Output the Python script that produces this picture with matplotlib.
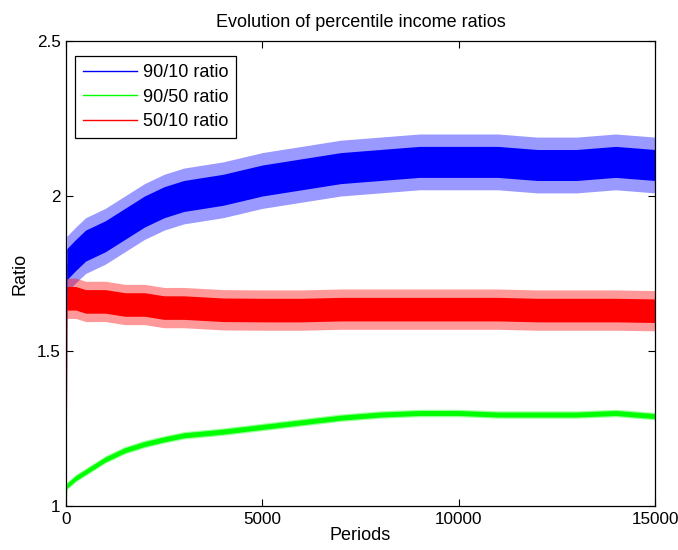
import numpy as np
import matplotlib
matplotlib.use("Agg")
import matplotlib.pyplot as plt
from matplotlib.lines import Line2D

plt.rcParams['font.family'] = ['Liberation Sans', 'DejaVu Sans']

periods = [20, 250, 500, 1000, 1500, 2000, 2500, 3000, 4000, 5000, 6000, 7000,
           8000, 9000, 10000, 11000, 12000, 13000, 14000, 15000]
start_value = 1.0  # all ratios start at 1 at period 0

# 90/10 ratio: band centre, dense core half-width, spike half-width
r9010_mid = [1.78, 1.81, 1.84, 1.87, 1.91, 1.95, 1.98, 2.00, 2.02, 2.05, 2.07, 2.09,
             2.10, 2.11, 2.11, 2.11, 2.10, 2.10, 2.11, 2.10]
r9010_core = 0.05
r9010_spike = 0.09

# 90/50 ratio
r9050_mid = [1.065, 1.09, 1.11, 1.15, 1.18, 1.20, 1.215, 1.228, 1.24, 1.255, 1.27, 1.285,
             1.295, 1.30, 1.30, 1.295, 1.295, 1.295, 1.30, 1.29]
r9050_core = 0.008
r9050_spike = 0.012

# 50/10 ratio
r5010_mid = [1.67, 1.67, 1.66, 1.66, 1.65, 1.65, 1.64, 1.64, 1.633, 1.632, 1.632, 1.635,
             1.635, 1.635, 1.635, 1.635, 1.632, 1.632, 1.632, 1.63]
r5010_core = 0.038
r5010_spike = 0.065

series = [
    ("90/10 ratio", r9010_mid, r9010_core, r9010_spike, "#0000ff"),
    ("90/50 ratio", r9050_mid, r9050_core, r9050_spike, "#00ff00"),
    ("50/10 ratio", r5010_mid, r5010_core, r5010_spike, "#ff0000"),
]

fig = plt.figure(figsize=(6.78, 5.5), dpi=100)
ax = fig.add_axes([66/678, 1-506/550, (655-66)/678, (506-41)/550])

x = np.array(periods, dtype=float)
handles = []
for label, mid, core, spike, color in series:
    m = np.array(mid)
    ax.plot([0, x[0]], [start_value, m[0]], color=color, lw=1)
    ax.fill_between(x, m - spike, m + spike, color=color, alpha=0.4, lw=0)
    ax.fill_between(x, m - core, m + core, color=color, alpha=1.0, lw=0)
    handles.append(Line2D([], [], color=color, lw=1, label=label))

ax.set_xlim(0, 15000)
ax.set_ylim(1, 2.5)
ax.set_xticks([0, 5000, 10000, 15000])
ax.set_xticklabels(["0", "5000", "10000", "15000"])
ax.set_yticks([1, 1.5, 2, 2.5])
ax.set_yticklabels(["1", "1.5", "2", "2.5"])
ax.tick_params(direction='in', top=True, right=True, labelsize=12.3, length=5, width=0.8,
               pad=4)
for s in ax.spines.values():
    s.set_linewidth(0.9)

ax.set_title("Evolution of percentile income ratios", fontsize=13, pad=10)
ax.set_xlabel("Periods", fontsize=13, labelpad=0)
ax.set_ylabel("Ratio", fontsize=13, labelpad=6)

leg = ax.legend(handles=handles, loc='upper left',
                bbox_to_anchor=((75-66)/589, (506-56)/465),
                fontsize=13, fancybox=False, edgecolor='black', framealpha=1,
                handlelength=3.0, handletextpad=0.3, borderaxespad=0,
                labelspacing=0.42, borderpad=0.45)
leg.get_frame().set_linewidth(0.9)

fig.savefig("out.png", dpi=100)
